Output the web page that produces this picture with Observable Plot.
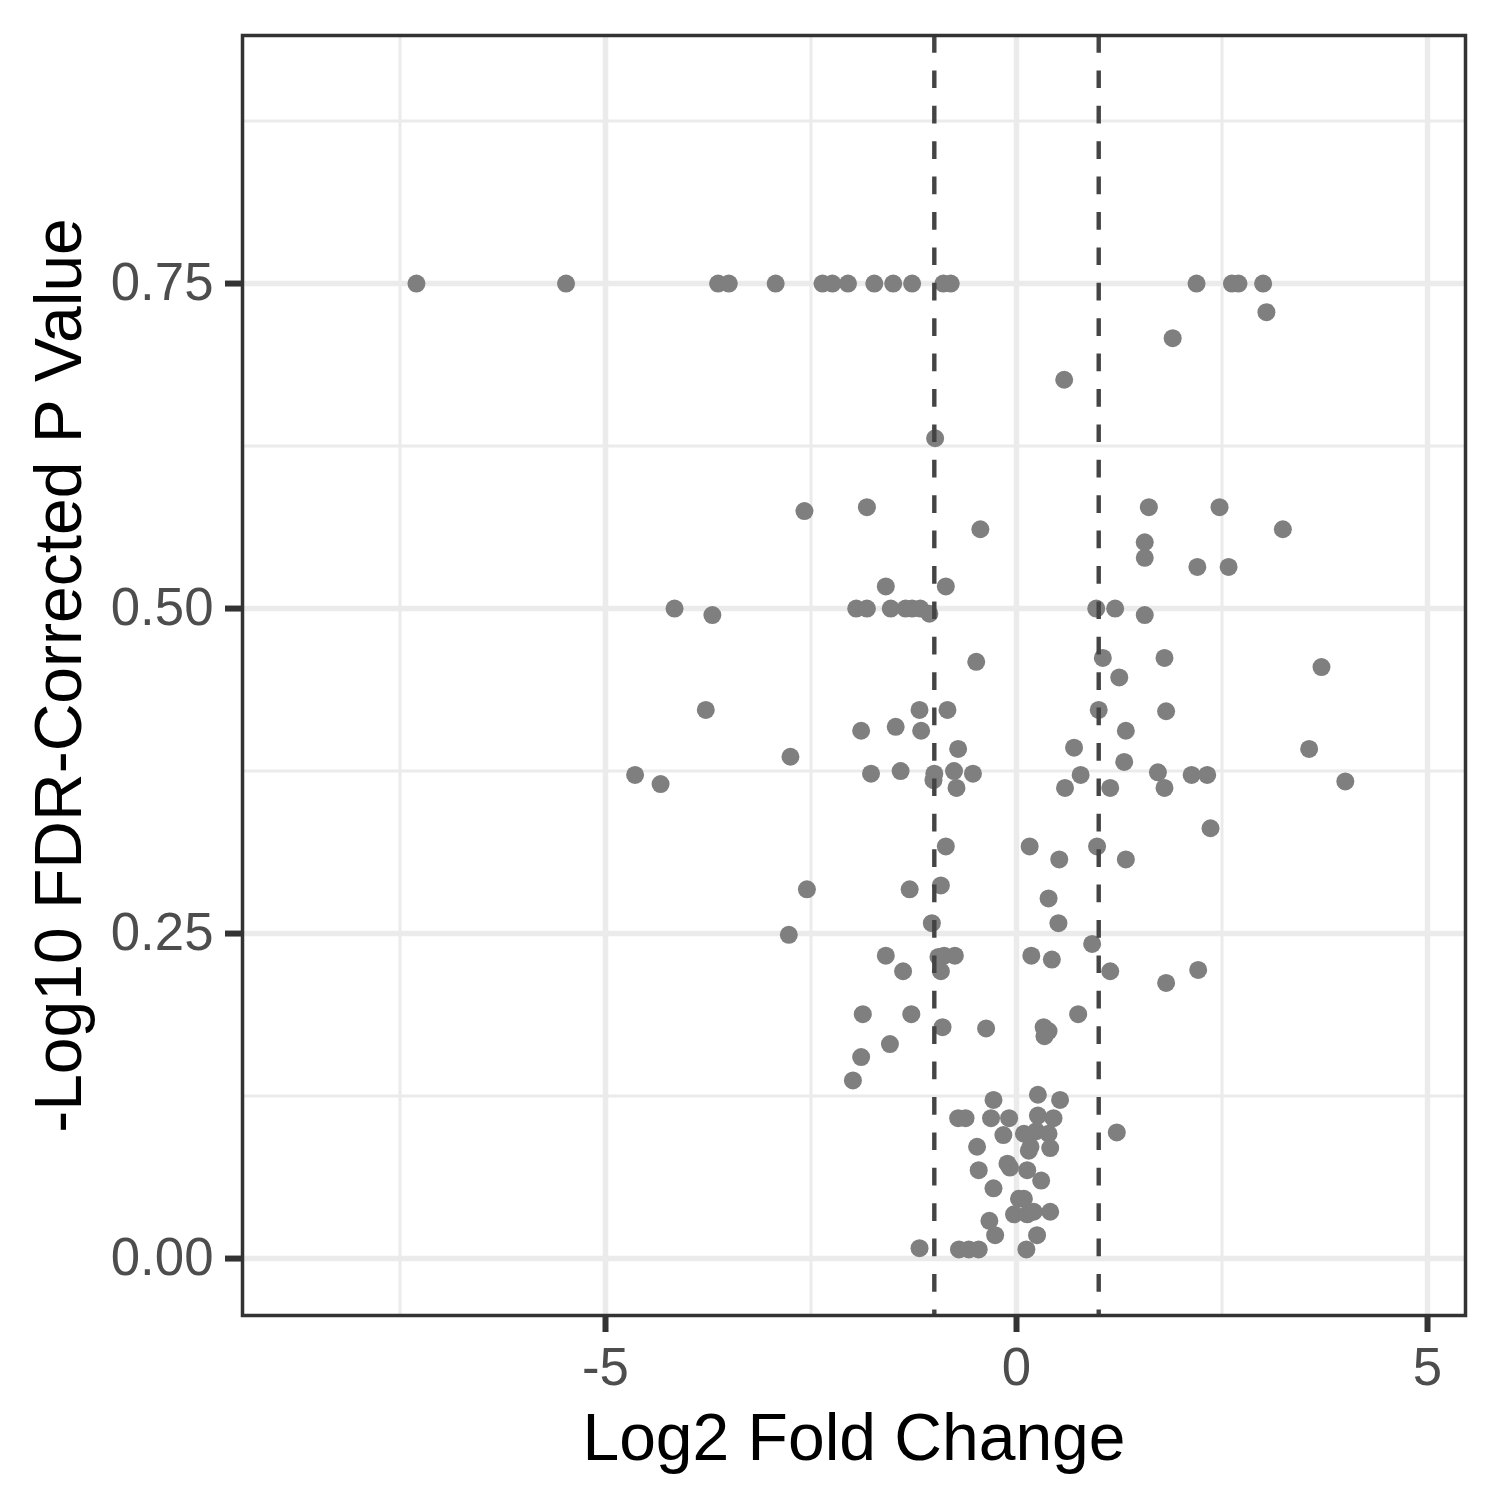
<!DOCTYPE html>
<html>
<head>
<meta charset="utf-8">
<script src="https://cdn.jsdelivr.net/npm/d3@7"></script>
<script src="https://cdn.jsdelivr.net/npm/@observablehq/plot@0.6"></script>
<style>
  html, body { margin: 0; padding: 0; background: white; }
  svg { display: block; }
</style>
</head>
<body>
<div id="chart"></div>
<script>
// Log2 fold change (x) and -log10 FDR-corrected p value (y)
const log2FC = [
  -7.30, -5.48, -3.63, -3.50, -2.93, -2.36, -2.24, -2.05, -1.73, -1.50, -1.27, -0.89, -0.80,
  2.19, 2.62, 2.70, 3.00,
  3.04, 1.90, 0.58, -0.99, -2.58, -1.82, -0.44, 1.61, 2.47, 3.24, 1.56, 1.56, 2.20, 2.58,
  -1.59, -0.86, -4.16, -3.70, -1.95, -1.82, -1.53, -1.35, -1.27, -1.17, -1.06, 0.97, 1.20, 1.56,
  -0.49, 1.05, 1.80, 1.25, 3.71, -3.78, -1.18, -0.84, 1.00, 1.82,
  -1.89, -1.47, -1.16, -0.71, -1.77, -1.41, -1.00, -1.01, -0.76, -0.53, -0.73, -0.86,
  -2.75, -4.64, -4.33,
  1.33, 0.70, 1.31, 0.78, 1.72, 2.13, 2.32, 0.59, 1.14, 1.80, 2.36, 0.16, 0.98, 0.52, 1.33,
  3.56, 4.00, -2.55, -2.77, 1.82, 2.21, 1.22,
  -1.30, -0.92, 0.39, -1.03, 0.51, 0.92, -1.59, -0.95, -0.88, -0.75, -0.92, -1.38, 0.18, 0.43, 1.14,
  -1.87, -1.28, -0.90, -0.37, 0.33, 0.39, 0.34, 0.75, -1.54, -1.89, -1.99,
  -1.18, -0.28, 0.26, 0.53, -0.71, -0.62, -0.31, -0.09, 0.26, 0.45, -0.16, 0.09, 0.24, 0.39,
  0.17, 0.41, 0.15, -0.48, -0.46, -0.11, -0.08, 0.13, 0.30, -0.28, 0.03, 0.09, -0.03, 0.13,
  0.21, 0.41, -0.33, -0.26, 0.25, -0.70, -0.58, -0.46, 0.12
];
const negLog10FDR = [
  0.750, 0.750, 0.750, 0.750, 0.750, 0.750, 0.750, 0.750, 0.750, 0.750, 0.750, 0.750, 0.750,
  0.750, 0.750, 0.750, 0.750,
  0.728, 0.708, 0.676, 0.631, 0.575, 0.578, 0.561, 0.578, 0.578, 0.561, 0.551, 0.539, 0.532, 0.532,
  0.517, 0.517, 0.500, 0.495, 0.500, 0.500, 0.500, 0.500, 0.500, 0.500, 0.496, 0.500, 0.500, 0.495,
  0.459, 0.462, 0.462, 0.447, 0.455, 0.422, 0.422, 0.422, 0.422, 0.421,
  0.406, 0.409, 0.406, 0.392, 0.373, 0.375, 0.373, 0.368, 0.375, 0.373, 0.362, 0.317,
  0.386, 0.372, 0.365,
  0.406, 0.393, 0.382, 0.372, 0.374, 0.372, 0.372, 0.362, 0.362, 0.362, 0.331, 0.317, 0.317, 0.307, 0.307,
  0.392, 0.367, 0.284, 0.249, 0.212, 0.222, 0.097,
  0.284, 0.287, 0.277, 0.258, 0.258, 0.242, 0.233, 0.232, 0.233, 0.233, 0.221, 0.221, 0.233, 0.230, 0.221,
  0.188, 0.188, 0.178, 0.177, 0.178, 0.175, 0.171, 0.188, 0.165, 0.155, 0.137,
  0.008, 0.122, 0.126, 0.122, 0.108, 0.108, 0.108, 0.108, 0.110, 0.108, 0.095, 0.096, 0.098, 0.096,
  0.086, 0.085, 0.083, 0.086, 0.068, 0.073, 0.070, 0.068, 0.060, 0.054, 0.046, 0.046, 0.034, 0.034,
  0.036, 0.036, 0.029, 0.018, 0.018, 0.007, 0.007, 0.007, 0.007
];
const foldCutoffs = [-1, 1];
const xMajorTicks = [-5, 0, 5];
const xMinorTicks = [-7.5, -2.5, 2.5];
const yMajorTicks = [0, 0.25, 0.5, 0.75];
const yMinorTicks = [0.125, 0.375, 0.625, 0.875];
const xTitle = "Log2 Fold Change";
const yTitle = "-Log10 FDR-Corrected P Value";

const points = log2FC.map((x, i) => ({x, y: negLog10FDR[i]}));

const chart = Plot.plot({
  width: 1500,
  height: 1500,
  marginLeft: 242,
  marginRight: 35,
  marginTop: 35,
  marginBottom: 185,
  style: {
    fontFamily: '"Liberation Sans", Arial, Helvetica, sans-serif',
    fontSize: "52.8px",
    background: "white",
    overflow: "visible"
  },
  x: {domain: [-9.416, 5.462]},
  y: {domain: [-0.0438, 0.9408]},
  marks: [
    Plot.gridX(xMinorTicks, {stroke: "#ebebeb", strokeOpacity: 1, strokeWidth: 3}),
    Plot.gridY(yMinorTicks, {stroke: "#ebebeb", strokeOpacity: 1, strokeWidth: 3}),
    Plot.gridX(xMajorTicks, {stroke: "#ebebeb", strokeOpacity: 1, strokeWidth: 5.5}),
    Plot.gridY(yMajorTicks, {stroke: "#ebebeb", strokeOpacity: 1, strokeWidth: 5.5}),
    Plot.dot(points, {x: "x", y: "y", r: 9, fill: "#7f7f7f", stroke: "none"}),
    Plot.ruleX(foldCutoffs, {stroke: "#444444", strokeWidth: 4.4, strokeDasharray: "17.7,17.7"}),
    Plot.frame({stroke: "#333333", strokeWidth: 3.5}),
    Plot.axisX(xMajorTicks, {
      anchor: "bottom", tickSize: 17, tickPadding: 15, stroke: "#333333", strokeWidth: 6,
      fill: "#4d4d4d", fontSize: 52.8, label: null, tickFormat: d => String(d)
    }),
    Plot.axisY(yMajorTicks, {
      anchor: "left", tickSize: 17, tickPadding: 12, stroke: "#333333", strokeWidth: 6,
      fill: "#4d4d4d", fontSize: 52.8, label: null, tickFormat: d3.format(".2f")
    }),
    Plot.text([xTitle], {
      frameAnchor: "bottom", textAnchor: "middle", lineAnchor: "middle",
      dy: 123, fontSize: 66, fill: "black", text: d => d
    }),
    Plot.text([yTitle], {
      frameAnchor: "left", textAnchor: "middle", lineAnchor: "middle",
      dx: -183, rotate: -90, fontSize: 66, fill: "black", text: d => d
    })
  ]
});
document.getElementById("chart").appendChild(chart);
</script>
</body>
</html>
